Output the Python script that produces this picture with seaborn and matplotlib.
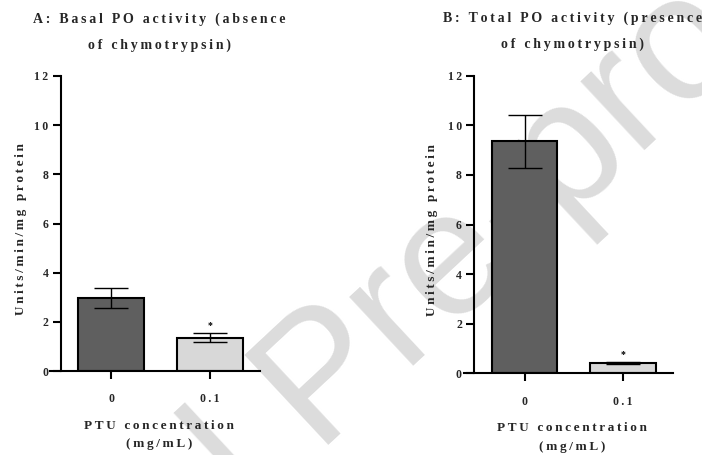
import matplotlib
matplotlib.use("Agg")
import numpy as np
import matplotlib.pyplot as plt
import seaborn as sns
import pandas as pd

sns.set_theme(style="white")
plt.rcParams['font.family'] = ['Liberation Serif', 'DejaVu Serif']
plt.rcParams['font.weight'] = 'bold'

# ---- data ----
categories = ["0", "0.1"]
basal_mean = [2.97, 1.35]
basal_sem = [0.41, 0.19]
total_mean = [9.35, 0.43]
total_sem = [1.07, 0.04]
yticks = [0, 2, 4, 6, 8, 10, 12]
titles = ["A: Basal PO activity (absence\nof chymotrypsin)",
          "B: Total PO activity (presence\nof chymotrypsin)"]
ylabel = "Units/min/mg protein"
xlabel = "PTU concentration\n(mg/mL)"
watermark_pre = "Journal "
watermark = "Journal Pre-proof"

bar_colors = ["#5f5f5f", "#d8d8d8"]


def sp(s):
    return "\n".join("\u2009".join(line) for line in s.split("\n"))


fig = plt.figure(figsize=(7.02, 4.55), dpi=100)
fig.patch.set_facecolor("white")

# ---- watermark (behind everything) ----
wm_kw = dict(fontsize=128, color="#dcdcdc",
             family=["Liberation Sans", "DejaVu Sans"], weight="normal")
renderer = fig.canvas.get_renderer()
tmp = fig.text(0, 0, watermark_pre, **wm_kw)
w_pre = tmp.get_window_extent(renderer).width
tmp.remove()
ang = np.deg2rad(43)
dvec = np.array([np.cos(ang), np.sin(ang)])
p_start = np.array([318.0, 0.0])  # display px where "P" baseline begins
start = p_start - w_pre * dvec
fig.text(start[0] / 702, start[1] / 455, watermark, rotation=43,
         rotation_mode="anchor", ha="left", va="baseline", zorder=-5, **wm_kw)

axes_rects = [[50 / 702, 84 / 455, 210 / 702, 295 / 455],
              [463.7 / 702, 81.7 / 455, 209 / 702, 297.6 / 455]]
means = [basal_mean, total_mean]
sems = [basal_sem, total_sem]
ylab_x = [-0.11, -0.123]

for i in range(2):
    ax = fig.add_axes(axes_rects[i])
    ax.patch.set_alpha(0)
    df = pd.DataFrame({"conc": categories, "val": means[i]})
    sns.barplot(data=df, x="conc", y="val", hue="conc", palette=bar_colors,
                legend=False, edgecolor="black", linewidth=1.5, width=0.67,
                errorbar=None, ax=ax, zorder=2)
    ax.errorbar(range(len(categories)), means[i], yerr=sems[i], fmt="none",
                ecolor="black", elinewidth=1.0, capsize=12, capthick=1.0, zorder=3)
    ax.text(1, means[i][1] + sems[i][1] + 0.12, "*", ha="center", va="bottom",
            fontsize=7, color="black")
    ax.set_xlim(-0.62, 1.51)
    ax.set_ylim(0, 12)
    ax.set_yticks(yticks)
    ax.set_yticklabels([sp(str(t)) for t in yticks])
    ax.set_xticks(range(len(categories)))
    ax.set_xticklabels([sp(c) for c in categories])
    sns.despine(ax=ax)
    ax.spines["left"].set_position(("data", -0.51))
    ax.spines["left"].set_bounds(0, 12)
    for s in ["left", "bottom"]:
        ax.spines[s].set_linewidth(1.5)
        ax.spines[s].set_color("black")
    ax.tick_params(axis="both", which="both", direction="out", length=6,
                   width=1.5, color="black", labelsize=8.5, pad=3,
                   bottom=True, left=True)
    for lab in ax.get_xticklabels() + ax.get_yticklabels():
        lab.set_fontweight("bold")
    ax.tick_params(axis="x", pad=10)
    ax.set_ylabel(sp(ylabel), fontsize=9.5, fontweight="bold")
    ax.yaxis.set_label_coords(ylab_x[i], 0.48)
    ax.set_xlabel(sp(xlabel), fontsize=9.5, fontweight="bold", linespacing=1.75)
    ax.xaxis.set_label_coords(0.52, -0.165)
    ax.text(0.52, 1.215, sp(titles[i]), transform=ax.transAxes, ha="center",
            va="top", fontsize=10, fontweight="bold", linespacing=2.2)

fig.savefig("out.png", dpi=100, facecolor="white")
